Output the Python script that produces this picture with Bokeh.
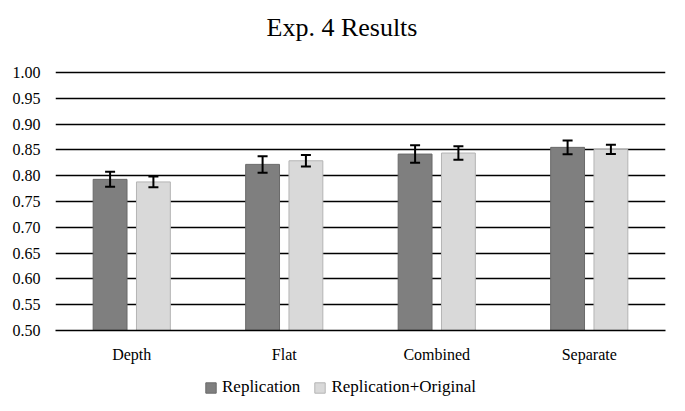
from bokeh.plotting import figure
from bokeh.layouts import column
from bokeh.models import (ColumnDataSource, FactorRange, Range1d, FixedTicker, Whisker,
                          TeeHead, Legend, LegendItem, NumeralTickFormatter)
from bokeh.transform import dodge
from bokeh.embed import file_html
from bokeh.resources import INLINE

categories = ["Depth", "Flat", "Combined", "Separate"]
replication = [0.793, 0.822, 0.842, 0.855]
replication_err = [0.0145, 0.016, 0.017, 0.0135]
rep_orig = [0.788, 0.829, 0.844, 0.851]
rep_orig_err = [0.0105, 0.011, 0.013, 0.009]
y_ticks = [0.50, 0.55, 0.60, 0.65, 0.70, 0.75, 0.80, 0.85, 0.90, 0.95, 1.00]
series_labels = ["Replication", "Replication+Original"]
title_text = "Exp. 4 Results"
colors = ["#7f7f7f", "#d9d9d9"]
outlines = ["#6a6a6a", "#b4b4b4"]

src = ColumnDataSource(data=dict(
    cat=categories,
    rep=replication,
    rep_lo=[v - e for v, e in zip(replication, replication_err)],
    rep_hi=[v + e for v, e in zip(replication, replication_err)],
    orig=rep_orig,
    orig_lo=[v - e for v, e in zip(rep_orig, rep_orig_err)],
    orig_hi=[v + e for v, e in zip(rep_orig, rep_orig_err)],
))

FONT = "Liberation Serif"


def bare(fig):
    fig.outline_line_color = None
    fig.xgrid.grid_line_color = None
    fig.ygrid.grid_line_color = None


# title strip
tf = figure(width=685, height=62, x_range=Range1d(0, 1), y_range=Range1d(0, 1),
            output_backend="svg", toolbar_location=None, x_axis_type=None, y_axis_type=None,
            min_border_left=0, min_border_right=0, min_border_top=0, min_border_bottom=0)
bare(tf)
tf.title.text = title_text
tf.title.align = "left"
tf.title.offset = 211
tf.title.vertical_align = "bottom"
tf.title.standoff = 20
tf.title.text_font = FONT
tf.title.text_font_size = "26px"
tf.title.text_font_style = "normal"
tf.title.text_color = "black"

# main chart
p = figure(width=685, height=310, x_range=FactorRange(*categories),
           y_range=Range1d(0.5, 1.004), output_backend="svg", toolbar_location=None,
           min_border_left=55, min_border_right=20, min_border_top=8, min_border_bottom=42)

off = 0.142
w = 0.222
r1 = p.vbar(x=dodge("cat", -off, range=p.x_range), top="rep", bottom=0.5, width=w, source=src,
            fill_color=colors[0], line_color=outlines[0], line_width=1)
r2 = p.vbar(x=dodge("cat", off, range=p.x_range), top="orig", bottom=0.5, width=w, source=src,
            fill_color=colors[1], line_color=outlines[1], line_width=1)

for col, o in (("rep", -off), ("orig", off)):
    wk = Whisker(base=dodge("cat", o, range=p.x_range), lower=col + "_lo", upper=col + "_hi",
                 source=src, line_color="black", line_width=2, level="overlay",
                 upper_head=TeeHead(size=10, line_color="black", line_width=2),
                 lower_head=TeeHead(size=10, line_color="black", line_width=2))
    p.add_layout(wk)

p.xgrid.grid_line_color = None
p.ygrid.grid_line_color = "black"
p.ygrid.grid_line_width = 1.6
p.ygrid.ticker = FixedTicker(ticks=y_ticks)

p.yaxis.ticker = FixedTicker(ticks=y_ticks)
p.yaxis.formatter = NumeralTickFormatter(format="0.00")
p.yaxis.axis_line_color = None
p.yaxis.major_label_standoff = 15

p.xaxis.axis_line_color = "black"
p.xaxis.axis_line_width = 1.6
p.xaxis.major_label_standoff = 15

for ax in (p.xaxis, p.yaxis):
    ax.major_tick_line_color = None
    ax.minor_tick_line_color = None
    ax.major_tick_out = 0
    ax.major_tick_in = 0
    ax.minor_tick_out = 0
    ax.minor_tick_in = 0
    ax.major_label_text_font = FONT
    ax.major_label_text_font_size = "16px"
    ax.major_label_text_color = "black"

p.outline_line_color = None

# legend strip below the chart (its key renderers lie outside its visible y range)
lg = figure(width=685, height=39, x_range=FactorRange(*categories), y_range=Range1d(10, 11),
            output_backend="svg", toolbar_location=None, x_axis_type=None, y_axis_type=None,
            min_border_left=0, min_border_right=0, min_border_top=0, min_border_bottom=0)
bare(lg)
k1 = lg.vbar(x="cat", top="rep", bottom=0.5, width=w, source=src,
             fill_color=colors[0], line_color=outlines[0])
k2 = lg.vbar(x="cat", top="orig", bottom=0.5, width=w, source=src,
             fill_color=colors[1], line_color=outlines[1])

legend = Legend(items=[LegendItem(label=series_labels[0], renderers=[k1]),
                       LegendItem(label=series_labels[1], renderers=[k2])],
                orientation="horizontal", location=(149, 14),
                border_line_color=None, background_fill_alpha=0,
                label_text_font=FONT, label_text_font_size="17px", label_text_color="black",
                glyph_width=13, glyph_height=13, label_standoff=5, spacing=13,
                label_height=20, padding=0, margin=0)
lg.add_layout(legend, "center")

layout = column(tf, p, lg, spacing=0)
open("out.html", "w").write(file_html(layout, INLINE))
